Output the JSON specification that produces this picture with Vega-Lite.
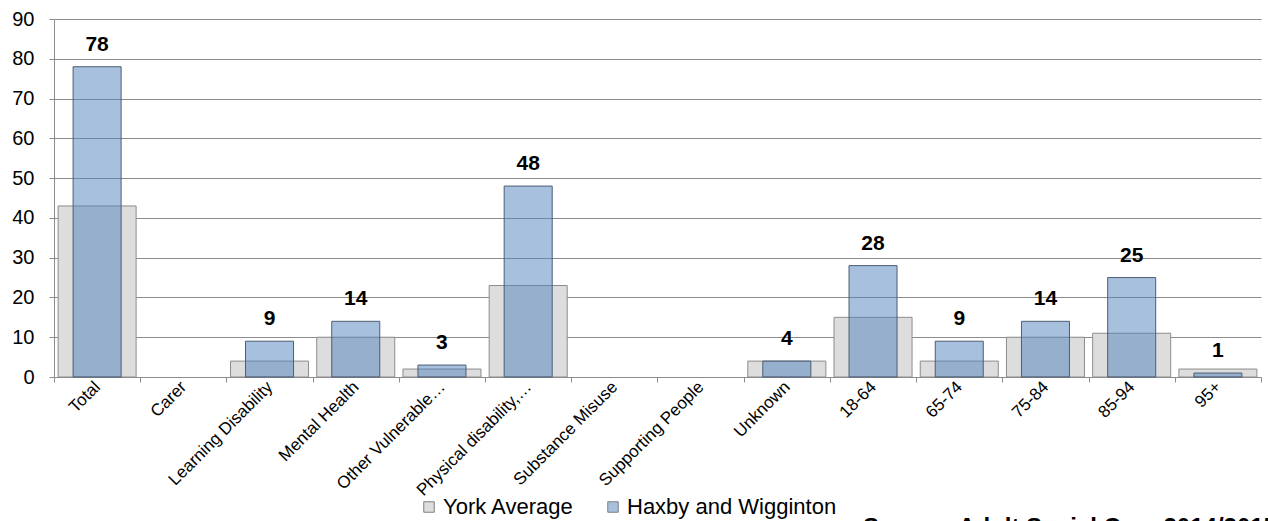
{
  "$schema": "https://vega.github.io/schema/vega-lite/v6.json",
  "width": 1207,
  "height": 358,
  "autosize": {"type": "none"},
  "padding": {"left": 54, "top": 19, "right": 7, "bottom": 144},
  "background": "white",
  "config": {"font": "Liberation Sans", "view": {"stroke": null}},
  "title": {
    "text": "Source: Adult Social Care 2014/2015",
    "orient": "bottom",
    "anchor": "start",
    "frame": "group",
    "fontSize": 24,
    "fontWeight": "bold",
    "color": "black",
    "dx": 809,
    "dy": -2,
    "baseline": "top",
    "offset": 0
  },
  "data": {
    "values": [
      {"cat": "Total", "series": "York Average", "value": 43},
      {"cat": "Learning Disability", "series": "York Average", "value": 4},
      {"cat": "Mental Health", "series": "York Average", "value": 10},
      {"cat": "Other Vulnerable…", "series": "York Average", "value": 2},
      {"cat": "Physical disability,…", "series": "York Average", "value": 23},
      {"cat": "Unknown", "series": "York Average", "value": 4},
      {"cat": "18-64", "series": "York Average", "value": 15},
      {"cat": "65-74", "series": "York Average", "value": 4},
      {"cat": "75-84", "series": "York Average", "value": 10},
      {"cat": "85-94", "series": "York Average", "value": 11},
      {"cat": "95+", "series": "York Average", "value": 2},
      {"cat": "Total", "series": "Haxby and Wigginton", "value": 78},
      {"cat": "Learning Disability", "series": "Haxby and Wigginton", "value": 9},
      {"cat": "Mental Health", "series": "Haxby and Wigginton", "value": 14},
      {"cat": "Other Vulnerable…", "series": "Haxby and Wigginton", "value": 3},
      {"cat": "Physical disability,…", "series": "Haxby and Wigginton", "value": 48},
      {"cat": "Unknown", "series": "Haxby and Wigginton", "value": 4},
      {"cat": "18-64", "series": "Haxby and Wigginton", "value": 28},
      {"cat": "65-74", "series": "Haxby and Wigginton", "value": 9},
      {"cat": "75-84", "series": "Haxby and Wigginton", "value": 14},
      {"cat": "85-94", "series": "Haxby and Wigginton", "value": 25},
      {"cat": "95+", "series": "Haxby and Wigginton", "value": 1}
    ]
  },
  "encoding": {
    "x": {
      "field": "cat",
      "type": "nominal",
      "sort": null,
      "scale": {
        "domain": ["Total", "Carer", "Learning Disability", "Mental Health", "Other Vulnerable…", "Physical disability,…", "Substance Misuse", "Supporting People", "Unknown", "18-64", "65-74", "75-84", "85-94", "95+"],
        "paddingInner": 0,
        "paddingOuter": 0
      },
      "axis": {
        "title": null,
        "tickBand": "extent",
        "labelAngle": -45,
        "labelAlign": "right",
        "labelBaseline": "middle",
        "labelFontSize": 17,
        "labelColor": "black",
        "labelLimit": 400,
        "labelPadding": 2,
        "ticks": true,
        "tickSize": 5,
        "tickColor": "#8c8c8c",
        "domain": false,
        "grid": false
      }
    },
    "y": {
      "field": "value",
      "type": "quantitative",
      "scale": {"domain": [0, 90], "nice": false},
      "axis": {
        "title": null,
        "values": [0, 10, 20, 30, 40, 50, 60, 70, 80, 90],
        "grid": true,
        "gridColor": "#8c8c8c",
        "gridWidth": 1,
        "domainColor": "#8c8c8c",
        "tickColor": "#8c8c8c",
        "tickSize": 5,
        "labelFontSize": 20,
        "labelColor": "black",
        "labelPadding": 15
      }
    }
  },
  "layer": [
    {
      "transform": [{"filter": "datum.series === 'York Average'"}],
      "mark": {"type": "bar", "width": {"band": 0.905}, "stroke": "#8c8c8c", "strokeWidth": 1},
      "encoding": {
        "color": {
          "field": "series",
          "type": "nominal",
          "scale": {"domain": ["York Average", "Haxby and Wigginton"], "range": ["#dddddd", "#a7c0de"]},
          "legend": {
            "title": null,
            "orient": "none",
            "legendX": 364,
            "legendY": 477,
            "direction": "horizontal",
            "labelFontSize": 22,
            "labelColor": "black",
            "labelLimit": 400,
            "labelOffset": 3,
            "symbolType": "square",
            "symbolSize": 110,
            "symbolStrokeColor": "#7f7f7f",
            "symbolStrokeWidth": 1,
            "columnPadding": 28
          }
        }
      }
    },
    {
      "transform": [{"filter": "datum.series === 'Haxby and Wigginton'"}],
      "mark": {"type": "bar", "width": {"band": 0.557}, "fill": "#4f81bd", "fillOpacity": 0.5, "stroke": "#4e5d73", "strokeWidth": 1}
    },
    {
      "transform": [{"filter": "datum.series === 'Haxby and Wigginton'"}],
      "mark": {"type": "text", "baseline": "bottom", "dy": -12, "fontSize": 21, "fontWeight": "bold", "color": "black"},
      "encoding": {"text": {"field": "value", "type": "quantitative"}}
    }
  ]
}
